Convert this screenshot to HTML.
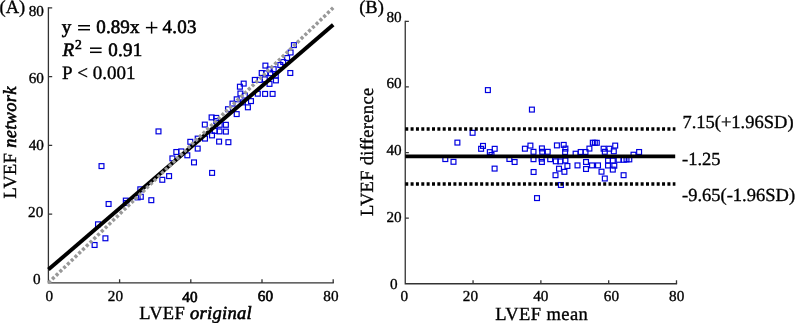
<!DOCTYPE html>
<html><head><meta charset="utf-8"><style>
html,body{margin:0;padding:0;background:#fff;width:797px;height:323px;overflow:hidden}
svg{position:absolute;left:0;top:0;display:block;will-change:transform}
text{font-family:"Liberation Serif",serif;text-rendering:geometricPrecision;stroke:#000;stroke-width:0.35px}
text.b{stroke-width:0.65px}
text.m{stroke-width:0.6px}
</style></head><body>
<svg width="797" height="323" viewBox="0 0 797 323">
<path d="M48.4 7.200000000000012V282.9H333.8" fill="none" stroke="#333" stroke-width="1.3"/>
<path d="M48.4 214.12h3.8 M119.60 282.9v-3.6 M48.4 145.35h3.8 M190.80 282.9v-3.6 M48.4 76.58h3.8 M262.00 282.9v-3.6 M48.4 7.80h3.8 M333.20 282.9v-3.6" fill="none" stroke="#333" stroke-width="1.3"/>
<g fill="none" stroke="#0000e0" stroke-width="1.2">
<rect x="92.17" y="242.57" width="4.85" height="4.85"/>
<rect x="102.98" y="235.88" width="4.85" height="4.85"/>
<rect x="95.58" y="221.88" width="4.85" height="4.85"/>
<rect x="106.17" y="201.57" width="4.85" height="4.85"/>
<rect x="99.08" y="163.67" width="4.85" height="4.85"/>
<rect x="123.38" y="198.17" width="4.85" height="4.85"/>
<rect x="123.78" y="200.57" width="4.85" height="4.85"/>
<rect x="137.88" y="186.88" width="4.85" height="4.85"/>
<rect x="138.38" y="194.38" width="4.85" height="4.85"/>
<rect x="135.17" y="194.97" width="4.85" height="4.85"/>
<rect x="148.88" y="197.77" width="4.85" height="4.85"/>
<rect x="159.88" y="177.38" width="4.85" height="4.85"/>
<rect x="166.67" y="173.67" width="4.85" height="4.85"/>
<rect x="156.07" y="128.97" width="4.85" height="4.85"/>
<rect x="169.97" y="155.97" width="4.85" height="4.85"/>
<rect x="173.88" y="149.57" width="4.85" height="4.85"/>
<rect x="178.77" y="148.97" width="4.85" height="4.85"/>
<rect x="184.88" y="152.88" width="4.85" height="4.85"/>
<rect x="187.88" y="139.38" width="4.85" height="4.85"/>
<rect x="191.57" y="159.97" width="4.85" height="4.85"/>
<rect x="195.27" y="136.17" width="4.85" height="4.85"/>
<rect x="195.27" y="146.17" width="4.85" height="4.85"/>
<rect x="202.57" y="136.17" width="4.85" height="4.85"/>
<rect x="209.67" y="170.47" width="4.85" height="4.85"/>
<rect x="202.38" y="122.17" width="4.85" height="4.85"/>
<rect x="209.17" y="114.98" width="4.85" height="4.85"/>
<rect x="213.77" y="115.48" width="4.85" height="4.85"/>
<rect x="213.88" y="118.58" width="4.85" height="4.85"/>
<rect x="217.27" y="122.38" width="4.85" height="4.85"/>
<rect x="223.47" y="122.38" width="4.85" height="4.85"/>
<rect x="212.38" y="128.47" width="4.85" height="4.85"/>
<rect x="217.07" y="128.97" width="4.85" height="4.85"/>
<rect x="223.47" y="129.17" width="4.85" height="4.85"/>
<rect x="209.57" y="132.97" width="4.85" height="4.85"/>
<rect x="216.67" y="139.17" width="4.85" height="4.85"/>
<rect x="225.97" y="139.77" width="4.85" height="4.85"/>
<rect x="225.57" y="106.78" width="4.85" height="4.85"/>
<rect x="230.07" y="101.17" width="4.85" height="4.85"/>
<rect x="234.27" y="96.88" width="4.85" height="4.85"/>
<rect x="234.27" y="111.67" width="4.85" height="4.85"/>
<rect x="240.47" y="99.98" width="4.85" height="4.85"/>
<rect x="237.97" y="91.08" width="4.85" height="4.85"/>
<rect x="242.38" y="93.17" width="4.85" height="4.85"/>
<rect x="245.47" y="104.88" width="4.85" height="4.85"/>
<rect x="248.57" y="98.67" width="4.85" height="4.85"/>
<rect x="255.38" y="91.28" width="4.85" height="4.85"/>
<rect x="262.68" y="91.48" width="4.85" height="4.85"/>
<rect x="270.18" y="91.48" width="4.85" height="4.85"/>
<rect x="237.47" y="84.28" width="4.85" height="4.85"/>
<rect x="241.27" y="81.17" width="4.85" height="4.85"/>
<rect x="252.38" y="77.48" width="4.85" height="4.85"/>
<rect x="257.38" y="77.48" width="4.85" height="4.85"/>
<rect x="262.38" y="76.88" width="4.85" height="4.85"/>
<rect x="267.07" y="81.48" width="4.85" height="4.85"/>
<rect x="273.47" y="77.98" width="4.85" height="4.85"/>
<rect x="259.27" y="70.58" width="4.85" height="4.85"/>
<rect x="263.57" y="70.78" width="4.85" height="4.85"/>
<rect x="262.97" y="63.17" width="4.85" height="4.85"/>
<rect x="267.18" y="66.98" width="4.85" height="4.85"/>
<rect x="271.27" y="66.78" width="4.85" height="4.85"/>
<rect x="273.38" y="73.17" width="4.85" height="4.85"/>
<rect x="277.88" y="62.58" width="4.85" height="4.85"/>
<rect x="280.77" y="59.58" width="4.85" height="4.85"/>
<rect x="284.68" y="55.58" width="4.85" height="4.85"/>
<rect x="288.18" y="50.08" width="4.85" height="4.85"/>
<rect x="291.47" y="42.68" width="4.85" height="4.85"/>
<rect x="287.88" y="70.58" width="4.85" height="4.85"/>
<rect x="267.77" y="70.78" width="4.85" height="4.85"/>
</g>
<line x1="48.4" y1="269.59" x2="333.2" y2="24.80" stroke="#000" stroke-width="3.9"/>
<line x1="48.4" y1="282.9" x2="333.2" y2="7.800000000000011" stroke="#999" stroke-width="3.5" stroke-dasharray="3.1 2.14"/>
<path d="M405.25 20.70000000000001V283.75H677.1" fill="none" stroke="#333" stroke-width="1.3"/>
<path d="M405.25 218.14h3.6 M473.06 283.75v-3.4 M405.25 152.53h3.6 M540.88 283.75v-3.4 M405.25 86.91h3.6 M608.69 283.75v-3.4 M405.25 21.30h3.6 M676.50 283.75v-3.4" fill="none" stroke="#333" stroke-width="1.3"/>
<g fill="none" stroke="#0000e0" stroke-width="1.2">
<rect x="485.47" y="87.67" width="4.85" height="4.85"/>
<rect x="529.48" y="107.17" width="4.85" height="4.85"/>
<rect x="470.18" y="130.38" width="4.85" height="4.85"/>
<rect x="454.97" y="140.17" width="4.85" height="4.85"/>
<rect x="442.88" y="156.67" width="4.85" height="4.85"/>
<rect x="451.07" y="159.38" width="4.85" height="4.85"/>
<rect x="480.57" y="143.47" width="4.85" height="4.85"/>
<rect x="478.68" y="146.38" width="4.85" height="4.85"/>
<rect x="492.27" y="146.38" width="4.85" height="4.85"/>
<rect x="487.38" y="149.67" width="4.85" height="4.85"/>
<rect x="489.07" y="152.57" width="4.85" height="4.85"/>
<rect x="492.18" y="166.17" width="4.85" height="4.85"/>
<rect x="506.97" y="156.57" width="4.85" height="4.85"/>
<rect x="512.18" y="159.57" width="4.85" height="4.85"/>
<rect x="522.48" y="146.27" width="4.85" height="4.85"/>
<rect x="527.98" y="143.17" width="4.85" height="4.85"/>
<rect x="531.08" y="149.38" width="4.85" height="4.85"/>
<rect x="531.08" y="156.77" width="4.85" height="4.85"/>
<rect x="531.18" y="169.57" width="4.85" height="4.85"/>
<rect x="534.58" y="195.67" width="4.85" height="4.85"/>
<rect x="539.48" y="145.97" width="4.85" height="4.85"/>
<rect x="539.78" y="149.38" width="4.85" height="4.85"/>
<rect x="545.28" y="149.38" width="4.85" height="4.85"/>
<rect x="539.48" y="159.57" width="4.85" height="4.85"/>
<rect x="539.18" y="156.17" width="4.85" height="4.85"/>
<rect x="547.78" y="156.77" width="4.85" height="4.85"/>
<rect x="554.48" y="142.97" width="4.85" height="4.85"/>
<rect x="553.38" y="158.88" width="4.85" height="4.85"/>
<rect x="556.58" y="166.27" width="4.85" height="4.85"/>
<rect x="553.08" y="172.77" width="4.85" height="4.85"/>
<rect x="558.48" y="182.57" width="4.85" height="4.85"/>
<rect x="561.28" y="142.47" width="4.85" height="4.85"/>
<rect x="562.98" y="146.17" width="4.85" height="4.85"/>
<rect x="562.68" y="149.57" width="4.85" height="4.85"/>
<rect x="557.88" y="158.97" width="4.85" height="4.85"/>
<rect x="562.98" y="158.07" width="4.85" height="4.85"/>
<rect x="561.98" y="169.38" width="4.85" height="4.85"/>
<rect x="564.98" y="163.57" width="4.85" height="4.85"/>
<rect x="573.18" y="151.27" width="4.85" height="4.85"/>
<rect x="578.28" y="149.57" width="4.85" height="4.85"/>
<rect x="583.08" y="149.57" width="4.85" height="4.85"/>
<rect x="586.98" y="146.17" width="4.85" height="4.85"/>
<rect x="590.38" y="140.27" width="4.85" height="4.85"/>
<rect x="592.38" y="140.38" width="4.85" height="4.85"/>
<rect x="594.38" y="140.38" width="4.85" height="4.85"/>
<rect x="575.08" y="162.97" width="4.85" height="4.85"/>
<rect x="583.58" y="159.57" width="4.85" height="4.85"/>
<rect x="583.58" y="166.57" width="4.85" height="4.85"/>
<rect x="589.58" y="162.97" width="4.85" height="4.85"/>
<rect x="595.58" y="162.97" width="4.85" height="4.85"/>
<rect x="599.08" y="169.27" width="4.85" height="4.85"/>
<rect x="602.38" y="176.07" width="4.85" height="4.85"/>
<rect x="601.18" y="146.27" width="4.85" height="4.85"/>
<rect x="606.88" y="146.27" width="4.85" height="4.85"/>
<rect x="612.78" y="143.17" width="4.85" height="4.85"/>
<rect x="611.38" y="148.88" width="4.85" height="4.85"/>
<rect x="602.38" y="149.38" width="4.85" height="4.85"/>
<rect x="605.58" y="158.17" width="4.85" height="4.85"/>
<rect x="605.58" y="163.07" width="4.85" height="4.85"/>
<rect x="610.38" y="158.17" width="4.85" height="4.85"/>
<rect x="611.88" y="163.27" width="4.85" height="4.85"/>
<rect x="610.38" y="167.17" width="4.85" height="4.85"/>
<rect x="616.18" y="157.38" width="4.85" height="4.85"/>
<rect x="621.38" y="157.38" width="4.85" height="4.85"/>
<rect x="624.08" y="156.97" width="4.85" height="4.85"/>
<rect x="626.88" y="156.97" width="4.85" height="4.85"/>
<rect x="621.18" y="172.77" width="4.85" height="4.85"/>
<rect x="631.08" y="152.27" width="4.85" height="4.85"/>
<rect x="636.68" y="149.57" width="4.85" height="4.85"/>
</g>
<line x1="405.25" y1="129" x2="675.4" y2="129" stroke="#000" stroke-width="3.6" stroke-dasharray="3 2.35"/>
<line x1="405.25" y1="184" x2="675.4" y2="184" stroke="#000" stroke-width="3.6" stroke-dasharray="3 2.35"/>
<line x1="405.25" y1="156.4" x2="675.2" y2="156.4" stroke="#000" stroke-width="3.6"/>
<g fill="#000"><text x="-0.5" y="12.7" font-size="18.5" text-anchor="start" >(A)</text>
<text x="359.2" y="13.2" font-size="18.5" text-anchor="start" >(B)</text>
<text x="43.9" y="15.9" font-size="15.2" text-anchor="end" >80</text>
<text x="43.9" y="83.2" font-size="15.2" text-anchor="end" >60</text>
<text x="43.9" y="150.1" font-size="15.2" text-anchor="end" >40</text>
<text x="43.3" y="216.7" font-size="15.2" text-anchor="end" >20</text>
<text x="40.6" y="283.5" font-size="15.2" text-anchor="end" >0</text>
<text x="49.3" y="301.2" font-size="15.2" text-anchor="middle" >0</text>
<text x="115.45" y="301.1" font-size="15.2" text-anchor="middle" >20</text>
<text x="330.9" y="301.2" font-size="15.2" text-anchor="middle" >80</text>
<text x="189.95" y="301.5" font-size="15.2" text-anchor="middle" class="b">40</text>
<text x="265.4" y="301.4" font-size="15.2" text-anchor="middle" class="b">60</text>
<text x="401.7" y="21.7" font-size="15.2" text-anchor="end" >80</text>
<text x="401.7" y="87.9" font-size="15.2" text-anchor="end" >60</text>
<text x="401.7" y="155.1" font-size="15.2" text-anchor="end" >40</text>
<text x="401.7" y="221.6" font-size="15.2" text-anchor="end" >20</text>
<text x="397.6" y="288.5" font-size="15.2" text-anchor="end" >0</text>
<text x="404.35" y="301.2" font-size="15.2" text-anchor="middle" >0</text>
<text x="470.45" y="301.2" font-size="15.2" text-anchor="middle" >20</text>
<text x="540.8" y="301.2" font-size="15.2" text-anchor="middle" >40</text>
<text x="611.4" y="301.4" font-size="15.2" text-anchor="middle" >60</text>
<text x="676.7" y="301.2" font-size="15.2" text-anchor="middle" >80</text>
<text x="139.3" y="318.5" font-size="18.5" letter-spacing="0.3">LVEF <tspan font-style="italic" style="stroke-width:0.6px">original</tspan></text>
<text x="495.2" y="319.8" font-size="18.5" letter-spacing="0.42">LVEF mean</text>
<text transform="translate(16.4 198.4) rotate(-90)" font-size="18.5" letter-spacing="0.28">LVEF <tspan font-style="italic" style="stroke-width:0.6px">network</tspan></text>
<text transform="translate(373.2 216.0) rotate(-90)" font-size="18.5" letter-spacing="0.31">LVEF difference</text>
<text class="m" x="61.8" y="33.2" font-size="19">y</text>
<rect x="78.1" y="25.00" width="11.90" height="1.5"/><rect x="78.1" y="28.95" width="11.90" height="1.5"/>
<text class="m" x="96.3" y="33.2" font-size="19" letter-spacing="0.1">0.89x</text>
<rect x="145.9" y="26.88" width="11.50" height="1.45"/><rect x="150.88" y="21.7" width="1.45" height="11.90"/>
<text class="m" x="162.6" y="33.2" font-size="19" letter-spacing="0.25">4.03</text>
<text class="m" x="62.6" y="55.8" font-size="19" font-style="italic">R</text>
<text class="m" x="75.0" y="48.7" font-size="13.6">2</text>
<rect x="90" y="47.45" width="11.60" height="1.5"/><rect x="90" y="51.55" width="11.60" height="1.5"/>
<text class="m" x="108.2" y="55.8" font-size="19" letter-spacing="0.25">0.91</text>
<text x="62.0" y="78.6" font-size="19">P</text>
<text x="77.3" y="78.6" font-size="19">&lt;</text>
<text x="92.8" y="78.6" font-size="19" letter-spacing="0">0.001</text>
<text x="682.4" y="128.4" font-size="18.5">7.15(+1.96SD)</text>
<text x="682" y="165.2" font-size="18.5">-1.25</text>
<text x="682" y="201.4" font-size="18.5">-9.65(-1.96SD)</text></g>
</svg>
</body></html>
